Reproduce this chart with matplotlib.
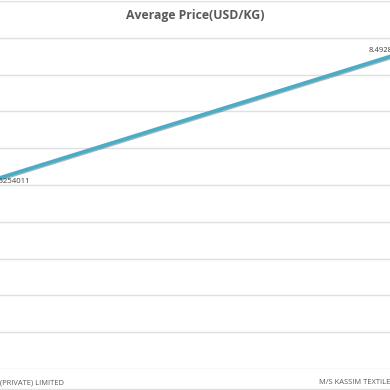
import matplotlib
matplotlib.use("Agg")
from matplotlib import pyplot as plt
from matplotlib import patheffects as pe

# data
suppliers = ["(PRIVATE) LIMITED", "M/S KASSIM TEXTILE"]
avg_price = [5.196254011, 8.492857143]
value_labels = ["5.196254011", "8.492857143"]
y_ticks = [0, 1, 2, 3, 4, 5, 6, 7, 8, 9, 10]

plt.rcParams['font.family'] = ['Open Sans', 'DejaVu Sans']

fig = plt.figure(figsize=(3.9, 3.9), dpi=100)
# the plot area fills the picture, the chart is cropped on both sides
ax = fig.add_axes([0, 21 / 390, 1, 368 / 390])

x = list(range(len(suppliers)))
ax.plot(x, avg_price, color="#4bacc6", lw=2.6, solid_capstyle="round",
        path_effects=[pe.SimpleLineShadow(offset=(0.6, -0.8), shadow_color="#2a5f70", alpha=0.45),
                      pe.Normal()])

ax.set_xlim(0, 1)
ax.set_ylim(0, 10)
ax.set_yticks(y_ticks)
ax.yaxis.grid(True, color="#e0e0e0", lw=1)
ax.tick_params(axis="y", left=False, labelleft=False)
ax.tick_params(axis="x", bottom=False, pad=4, labelsize=5.4, labelcolor="#595959")
ax.set_xticks(x)
ax.set_xticklabels(suppliers)
lbls = ax.get_xticklabels()
lbls[0].set_ha("left")
lbls[-1].set_ha("right")
for s in ax.spines.values():
    s.set_visible(False)
ax.set_axisbelow(True)

# data labels
ax.annotate(value_labels[0], (x[0], avg_price[0]), xytext=(5, -3), textcoords="offset points",
            ha="center", va="center", fontsize=5.6, color="#404040", annotation_clip=False)
ax.annotate(value_labels[1], (x[1], avg_price[1]), xytext=(1, 4), textcoords="offset points",
            ha="center", va="center", fontsize=5.6, color="#404040", annotation_clip=False)

fig.text(0.5, 1 - 16 / 390, "Average Price(USD/KG)", ha="center", va="center",
         fontsize=8.8, fontweight="bold", color="#595959")

# bottom border line below the category labels
fig.add_artist(plt.Line2D([0, 1], [1.2 / 390, 1.2 / 390], color="#e0e0e0", lw=1))

fig.savefig("out.png", dpi=100)
